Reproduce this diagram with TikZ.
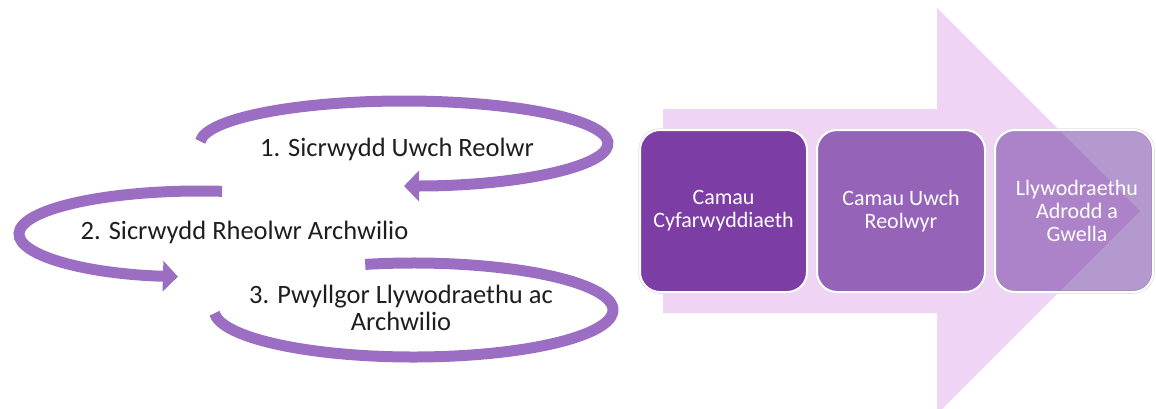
\documentclass[tikz,border=0pt]{standalone}
\usepackage{fontspec}
\setmainfont{Carlito}
\usetikzlibrary{arrows.meta}

\definecolor{loopviolet}{RGB}{155,110,195}
\definecolor{arrowpink}{RGB}{240,212,245}
\definecolor{stepdark}{RGB}{124,62,165}
\definecolor{stepmid}{RGB}{149,99,184}
\definecolor{steplight}{RGB}{105,51,157}
\definecolor{textgrey}{RGB}{30,30,30}

\begin{document}
\begin{tikzpicture}[x=1pt,y=-1pt,
    loopline/.style={draw=loopviolet, line width=11pt},
    looptext/.style={text=textgrey, font=\fontsize{26.5}{27}\selectfont, align=center, inner sep=0pt},
    stepbox/.style={rounded corners=20pt, draw=white, line width=2pt, text=white,
        font=\fontsize{22}{23}\selectfont, align=center, inner sep=0pt},
    stepshadow/.style={rounded corners=20pt, draw=black!12, line width=3.5pt},
    >={Triangle[width=30pt,length=15pt]}]

    \useasboundingbox (0,0) rectangle (1156,408);

    % big arrow behind the steps
    \fill[arrowpink] (663,109) -- (937,109) -- (937,8) -- (1140,211)
        -- (937,414) -- (937,313) -- (663,313) -- cycle;

    % steps
    \draw[stepshadow] (640,130) rectangle (807,292);
    \draw[stepbox, fill=stepdark] (640,130) rectangle (807,292);
    \node[stepbox, draw=none] (camau) at (723.5,211) {Camau\\Cyfarwyddiaeth};

    \draw[stepshadow] (817,130) rectangle (985,292);
    \draw[stepbox, fill=stepmid] (817,130) rectangle (985,292);
    \node[stepbox, draw=none] (uwch) at (901,211) {Camau Uwch\\Reolwyr};

    \draw[stepshadow] (995,130) rectangle (1153,292);
    \draw[stepbox, fill=steplight, fill opacity=0.5] (995,130) rectangle (1153,292);
    \node[stepbox, draw=none] (llyw) at (1077,211) {Llywodraethu\\Adrodd a\\Gwella};

    % loops
    \draw[loopline, ->] (404,143.5) ++(183:204 and 42.5)
        arc[start angle=183, end angle=450, x radius=204, y radius=42.5];
    \draw[loopline, ->] (200,234) ++(277:181 and 43)
        arc[start angle=277, end angle=97, x radius=181, y radius=43];
    \draw[loopline] (413.5,310) ++(256:199.5 and 47)
        arc[start angle=256, end angle=536, x radius=199.5, y radius=47];

    \node[looptext] (sicr1) at (397,149) {1. Sicrwydd Uwch Reolwr};
    \node[looptext] (sicr2) at (244.5,232) {2. Sicrwydd Rheolwr Archwilio};
    \node[looptext] (pwyll) at (401,308) {3. Pwyllgor Llywodraethu ac\\Archwilio};
\end{tikzpicture}
\end{document}
